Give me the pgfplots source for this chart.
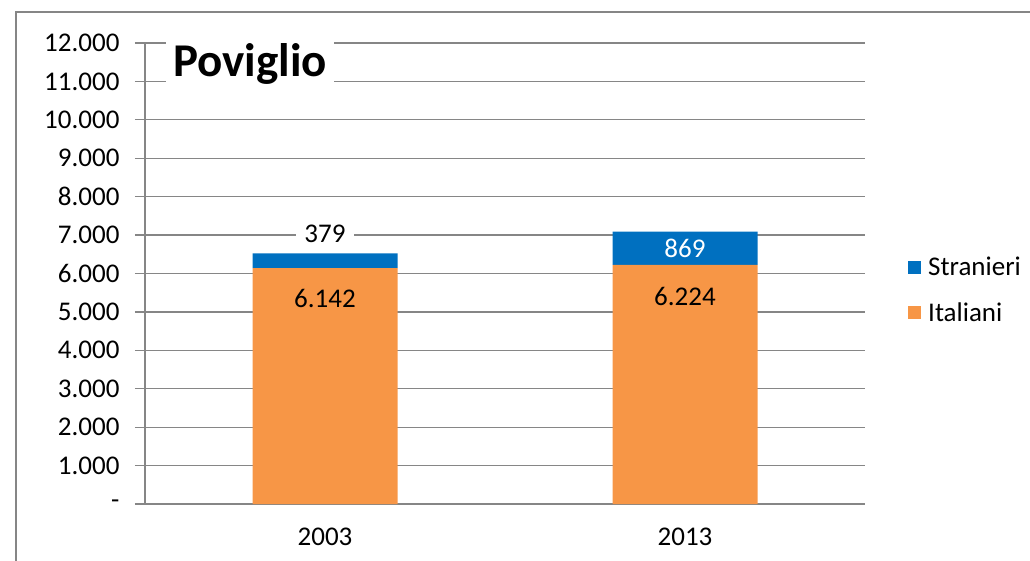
\documentclass[border=0pt]{standalone}
\usepackage{pgfplots}
\usepackage{pgfplotstable}
\pgfplotsset{compat=1.18}
\usepackage{fontspec}
\setmainfont{Carlito}
\definecolor{stranieri}{RGB}{0,112,192}
\definecolor{italiani}{RGB}{247,150,70}
\definecolor{gridgray}{RGB}{134,134,134}
\setlength{\fboxsep}{2pt}
\pgfplotstableread{
x y lab
0 6142 6.142
1 6224 6.224
}\ital
\pgfplotstableread{
x y lab sh
0 379 379 27
1 869 869 0
}\stran
\begin{document}
\begin{tikzpicture}
\useasboundingbox (-145pt,-56pt) rectangle (885pt,504pt);
\draw[gridgray, line width=2pt] (-129pt,-80pt) -- (-129pt,492pt) -- (920pt,492pt);
\begin{axis}[
  scale only axis, width=720pt, height=461pt,
  xmin=-0.5, xmax=1.5, ymin=0, ymax=12000,
  enlargelimits=false,
  scaled y ticks=false,
  axis x line=bottom, axis y line=left,
  axis line style={-, gridgray, line width=1.2pt},
  ybar stacked, bar width=145pt,
  xtick={0,1}, xticklabels={2003,2013},
  x tick style={draw=none},
  minor xtick={-0.5,0.5,1.5},
  minor x tick style={gridgray, line width=1.2pt},
  minor tick length=8pt,
  ytick={0,1000,...,12000},
  yticklabels={-,1.000,2.000,3.000,4.000,5.000,6.000,7.000,8.000,9.000,10.000,11.000,12.000},
  y tick style={gridgray, line width=1.2pt},
  major tick length=10pt,
  tick align=outside,
  ymajorgrids, grid style={gridgray, line width=1.2pt},
  tick label style={font=\fontsize{27}{32}\selectfont},
  yticklabel style={xshift=-12pt},
  xticklabel style={yshift=-10pt},
  legend style={draw=none, fill=none, at={(1,0.54)}, anchor=north west, xshift=43pt,
    font=\fontsize{27}{32}\selectfont, row sep=21pt, inner sep=0pt,
    nodes={inner sep=2pt}},
  legend cell align=left,
  reverse legend,
  legend image code/.code={\fill[#1] (0pt,-6.5pt) rectangle (13pt,6.5pt); \path (18pt,0pt);},
  point meta=explicit symbolic,
]
\addplot[fill=italiani, draw=none, nodes near coords,
  nodes near coords style={anchor=center, yshift=88pt, text=black, font=\fontsize{27}{32}\selectfont}]
  table[x=x, y=y, meta=lab] {\ital};
\addlegendentry{Italiani}
\addplot[fill=stranieri, draw=none,
  visualization depends on={\thisrow{sh} \as \sh},
  nodes near coords={\ifdim\sh pt>0pt \colorbox{white}{\hspace{6pt}\pgfplotspointmeta\hspace{6pt}}\else\textcolor{white}{\pgfplotspointmeta}\fi},
  nodes near coords style={anchor=center, yshift=\sh pt, inner sep=0pt, font=\fontsize{27}{32}\selectfont}]
  table[x=x, y=y, meta=lab] {\stran};
\addlegendentry{Stranieri}
\node[fill=white, inner xsep=7pt, inner ysep=2pt, font=\fontsize{47}{52}\selectfont\bfseries] at (rel axis cs:0.146,0.955) {Poviglio};
\end{axis}
\end{tikzpicture}
\end{document}
